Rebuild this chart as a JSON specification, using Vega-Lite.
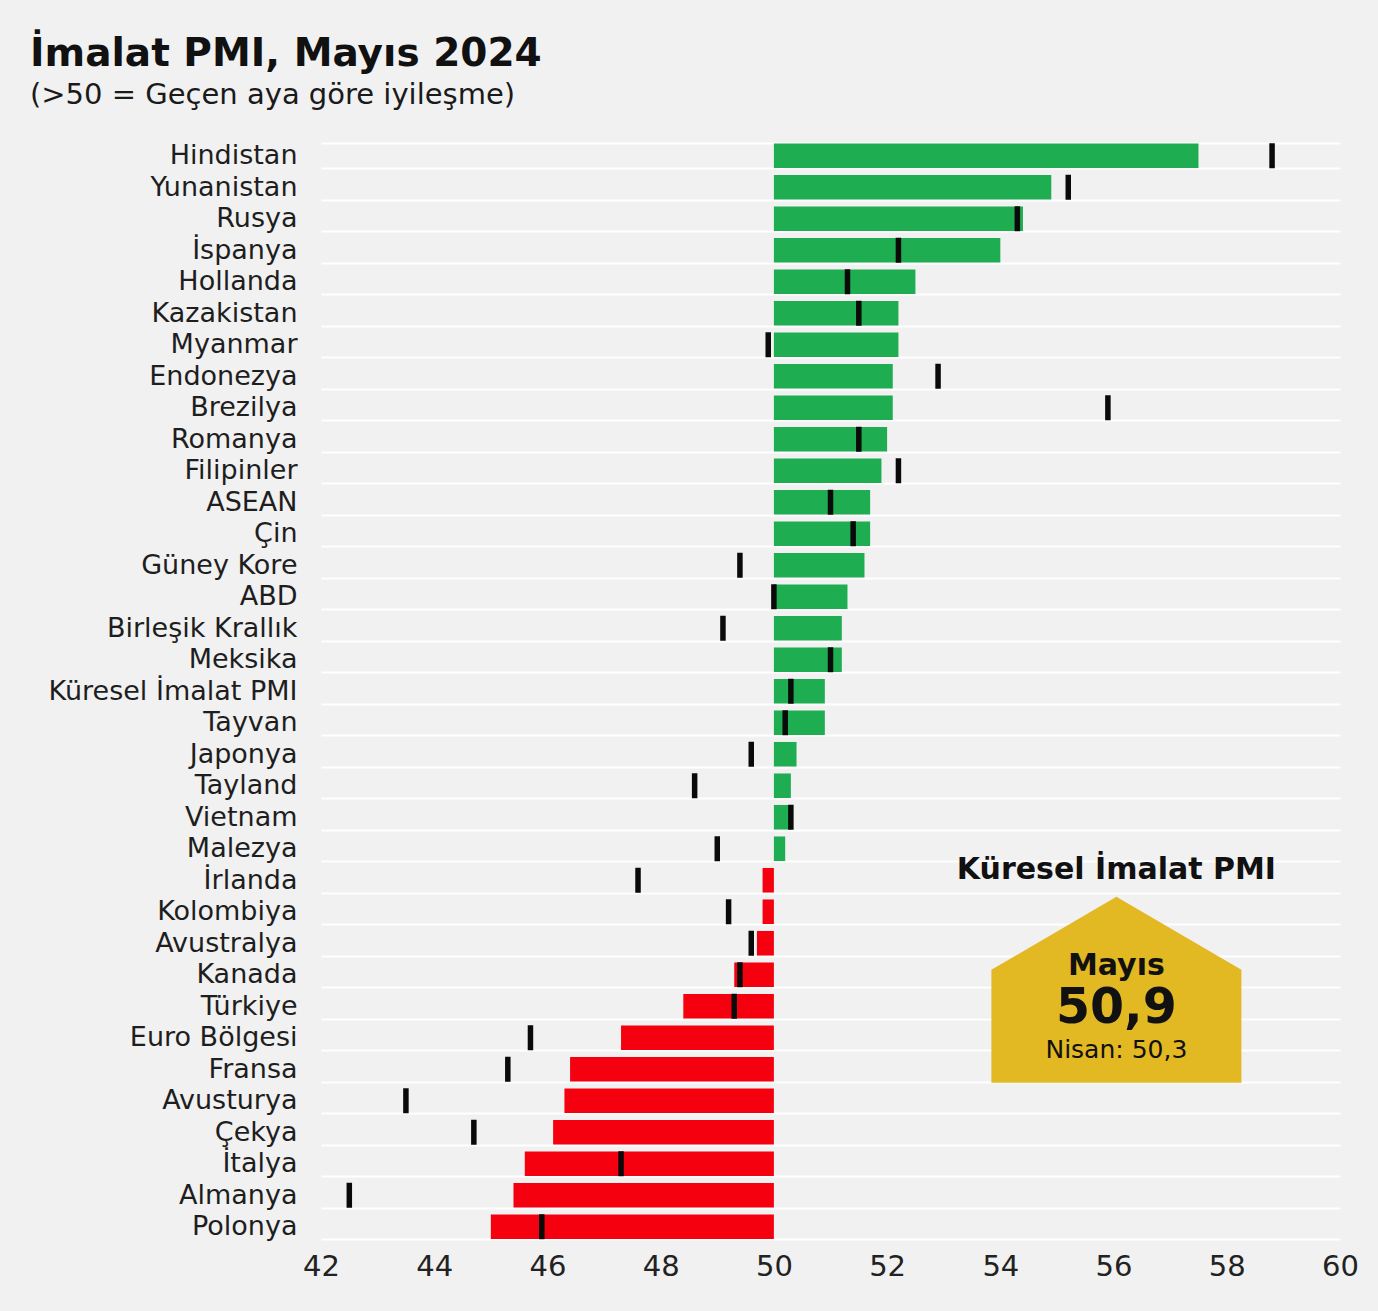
{
  "$schema": "https://vega.github.io/schema/vega-lite/v6.json",
  "width": 1019,
  "height": 1102.5,
  "autosize": {"type": "none"},
  "padding": {"left": 321, "top": 140, "right": 38, "bottom": 68},
  "background": "#f1f1f1",
  "config": {"view": {"stroke": null}, "font": "DejaVu Sans"},
  "title": {
    "text": "İmalat PMI, Mayıs 2024",
    "subtitle": "(>50 = Geçen aya göre iyileşme)",
    "anchor": "start",
    "frame": "group",
    "dx": -291,
    "offset": 16,
    "font": "DejaVu Sans",
    "fontSize": 39,
    "fontWeight": "bold",
    "color": "#111111",
    "subtitleFont": "DejaVu Sans",
    "subtitleFontSize": 29,
    "subtitleColor": "#1a1a1a",
    "subtitlePadding": 7
  },
  "datasets": {
    "pmi": [
      {"ulke": "Hindistan", "mayis": 57.5, "nisan": 58.8},
      {"ulke": "Yunanistan", "mayis": 54.9, "nisan": 55.2},
      {"ulke": "Rusya", "mayis": 54.4, "nisan": 54.3},
      {"ulke": "İspanya", "mayis": 54.0, "nisan": 52.2},
      {"ulke": "Hollanda", "mayis": 52.5, "nisan": 51.3},
      {"ulke": "Kazakistan", "mayis": 52.2, "nisan": 51.5},
      {"ulke": "Myanmar", "mayis": 52.2, "nisan": 49.9},
      {"ulke": "Endonezya", "mayis": 52.1, "nisan": 52.9},
      {"ulke": "Brezilya", "mayis": 52.1, "nisan": 55.9},
      {"ulke": "Romanya", "mayis": 52.0, "nisan": 51.5},
      {"ulke": "Filipinler", "mayis": 51.9, "nisan": 52.2},
      {"ulke": "ASEAN", "mayis": 51.7, "nisan": 51.0},
      {"ulke": "Çin", "mayis": 51.7, "nisan": 51.4},
      {"ulke": "Güney Kore", "mayis": 51.6, "nisan": 49.4},
      {"ulke": "ABD", "mayis": 51.3, "nisan": 50.0},
      {"ulke": "Birleşik Krallık", "mayis": 51.2, "nisan": 49.1},
      {"ulke": "Meksika", "mayis": 51.2, "nisan": 51.0},
      {"ulke": "Küresel İmalat PMI", "mayis": 50.9, "nisan": 50.3},
      {"ulke": "Tayvan", "mayis": 50.9, "nisan": 50.2},
      {"ulke": "Japonya", "mayis": 50.4, "nisan": 49.6},
      {"ulke": "Tayland", "mayis": 50.3, "nisan": 48.6},
      {"ulke": "Vietnam", "mayis": 50.3, "nisan": 50.3},
      {"ulke": "Malezya", "mayis": 50.2, "nisan": 49.0},
      {"ulke": "İrlanda", "mayis": 49.8, "nisan": 47.6},
      {"ulke": "Kolombiya", "mayis": 49.8, "nisan": 49.2},
      {"ulke": "Avustralya", "mayis": 49.7, "nisan": 49.6},
      {"ulke": "Kanada", "mayis": 49.3, "nisan": 49.4},
      {"ulke": "Türkiye", "mayis": 48.4, "nisan": 49.3},
      {"ulke": "Euro Bölgesi", "mayis": 47.3, "nisan": 45.7},
      {"ulke": "Fransa", "mayis": 46.4, "nisan": 45.3},
      {"ulke": "Avusturya", "mayis": 46.3, "nisan": 43.5},
      {"ulke": "Çekya", "mayis": 46.1, "nisan": 44.7},
      {"ulke": "İtalya", "mayis": 45.6, "nisan": 47.3},
      {"ulke": "Almanya", "mayis": 45.4, "nisan": 42.5},
      {"ulke": "Polonya", "mayis": 45.0, "nisan": 45.9}
    ]
  },
  "layer": [
    {
      "data": {"name": "pmi"},
      "mark": {"type": "bar"},
      "encoding": {
        "y": {
          "field": "ulke",
          "type": "nominal",
          "sort": null,
          "scale": {"paddingInner": 0.22, "paddingOuter": 0.11},
          "axis": {
            "title": null,
            "domain": false,
            "ticks": false,
            "labelFont": "DejaVu Sans",
            "labelFontSize": 27,
            "labelColor": "#1e1e1e",
            "labelPadding": 24,
            "labelLimit": 400,
            "grid": true,
            "gridColor": "#ffffff",
            "gridWidth": 2,
            "tickBand": "extent"
          }
        },
        "x": {
          "field": "mayis",
          "type": "quantitative",
          "scale": {"domain": [42, 60], "nice": false, "zero": false},
          "axis": {
            "title": null,
            "domain": false,
            "ticks": false,
            "grid": false,
            "values": [42, 44, 46, 48, 50, 52, 54, 56, 58, 60],
            "format": "d",
            "labelFont": "DejaVu Sans",
            "labelFontSize": 29,
            "labelColor": "#222222",
            "labelPadding": 10,
            "labelFlush": false
          }
        },
        "x2": {"datum": 50},
        "color": {
          "condition": {"test": "datum.mayis >= 50", "value": "#1fad52"},
          "value": "#f5000f"
        }
      }
    },
    {
      "data": {"name": "pmi"},
      "mark": {"type": "tick", "orient": "vertical", "thickness": 5.5, "size": 25, "color": "#0a0a0a", "opacity": 1},
      "encoding": {
        "y": {"field": "ulke", "type": "nominal", "sort": null},
        "x": {"field": "nisan", "type": "quantitative"}
      }
    },
    {
      "data": {"values": [{"x": 56.05, "ulke": "Kanada"}]},
      "mark": {
        "type": "point",
        "shape": "M -1 -0.16 L 0 -0.744 L 1 -0.16 L 1 0.744 L -1 0.744 Z",
        "size": 62500,
        "filled": true,
        "color": "#e2b823",
        "opacity": 1,
        "strokeWidth": 0,
        "yOffset": 15
      },
      "encoding": {
        "x": {"field": "x", "type": "quantitative"},
        "y": {"field": "ulke", "type": "nominal", "sort": null}
      }
    },
    {
      "data": {"values": [{"x": 56.05, "ulke": "İrlanda", "t": "Küresel İmalat PMI"}]},
      "mark": {"type": "text", "font": "DejaVu Sans", "fontSize": 30, "fontWeight": "bold", "color": "#111111", "align": "center", "baseline": "middle", "dy": -10},
      "encoding": {
        "x": {"field": "x", "type": "quantitative"},
        "y": {"field": "ulke", "type": "nominal", "sort": null},
        "text": {"field": "t"}
      }
    },
    {
      "data": {"values": [{"x": 56.05, "ulke": "Kanada", "t": "Mayıs"}]},
      "mark": {"type": "text", "font": "DejaVu Sans", "fontSize": 30, "fontWeight": "bold", "color": "#111111", "align": "center", "baseline": "middle", "dy": -9},
      "encoding": {
        "x": {"field": "x", "type": "quantitative"},
        "y": {"field": "ulke", "type": "nominal", "sort": null},
        "text": {"field": "t"}
      }
    },
    {
      "data": {"values": [{"x": 56.05, "ulke": "Türkiye", "t": "50,9"}]},
      "mark": {"type": "text", "font": "DejaVu Sans", "fontSize": 49, "fontWeight": "bold", "color": "#111111", "align": "center", "baseline": "middle", "dy": 2},
      "encoding": {
        "x": {"field": "x", "type": "quantitative"},
        "y": {"field": "ulke", "type": "nominal", "sort": null},
        "text": {"field": "t"}
      }
    },
    {
      "data": {"values": [{"x": 56.05, "ulke": "Euro Bölgesi", "t": "Nisan: 50,3"}]},
      "mark": {"type": "text", "font": "DejaVu Sans", "fontSize": 25, "color": "#111111", "align": "center", "baseline": "middle", "dy": 12},
      "encoding": {
        "x": {"field": "x", "type": "quantitative"},
        "y": {"field": "ulke", "type": "nominal", "sort": null},
        "text": {"field": "t"}
      }
    }
  ]
}
